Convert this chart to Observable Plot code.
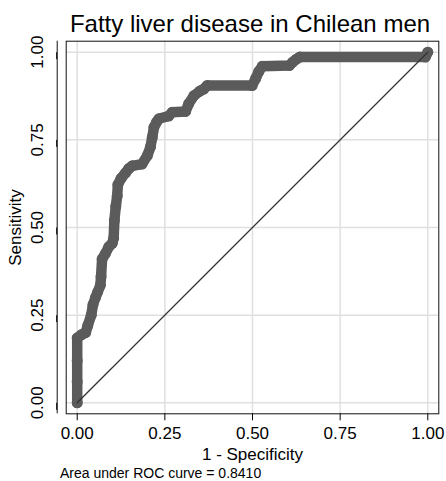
<!DOCTYPE html>
<html><head><meta charset="utf-8">
<script src="https://cdn.jsdelivr.net/npm/d3@7"></script>
<script src="https://cdn.jsdelivr.net/npm/@observablehq/plot@0.6"></script>
<style>
body{margin:0;background:#fff;font-family:"Liberation Sans",Arial,sans-serif;}
#wrap{position:relative;width:446px;height:481px;overflow:hidden;background:#fff}
#title{position:absolute;left:50px;width:400px;top:12px;font-size:24px;line-height:24px;text-align:center;white-space:nowrap;color:#000}
#chart{position:absolute;left:0;top:38px}
#caption{position:absolute;left:60px;top:466px;font-size:14px;line-height:14px;white-space:nowrap;color:#000}
</style></head><body>
<div id="wrap">
<div id="title">Fatty liver disease in Chilean men</div>
<div id="chart"></div>
<div id="caption">Area under ROC curve = 0.8410</div>
</div>
<script>
// ROC curve points: 1 - specificity (fpr) and sensitivity (tpr)
const fpr = [0, 0, 0, 0, 0.012, 0.024, 0.03, 0.04, 0.045, 0.052, 0.058, 0.066, 0.068, 0.071, 0.08, 0.09, 0.1, 0.104, 0.106, 0.11, 0.114, 0.116, 0.125, 0.138, 0.147, 0.157, 0.185, 0.2, 0.209, 0.214, 0.219, 0.226, 0.233, 0.261, 0.271, 0.309, 0.318, 0.333, 0.35, 0.361, 0.371, 0.499, 0.509, 0.518, 0.528, 0.605, 0.615, 0.625, 0.635, 0.993, 1];
const tpr = [0, 0.06, 0.12, 0.185, 0.194, 0.2, 0.22, 0.25, 0.28, 0.3, 0.315, 0.335, 0.36, 0.41, 0.425, 0.445, 0.455, 0.47, 0.52, 0.56, 0.59, 0.622, 0.64, 0.656, 0.668, 0.676, 0.681, 0.705, 0.73, 0.757, 0.786, 0.8, 0.81, 0.818, 0.829, 0.831, 0.853, 0.876, 0.889, 0.895, 0.905, 0.905, 0.925, 0.945, 0.96, 0.962, 0.972, 0.98, 0.986, 0.986, 1];
// reference (chance) line
const diagX = [0, 1];
const diagY = [0, 1];
// ticks
const ticks = [0, 0.25, 0.5, 0.75, 1];
const tickLabels = ["0.00", "0.25", "0.50", "0.75", "1.00"];
const xDomain = [-0.0314, 1.0314];
const yDomain = [-0.0314, 1.0314];

const roc = fpr.map((x, i) => ({x, y: tpr[i]}));
const diag = diagX.map((x, i) => ({x, y: diagY[i]}));
const fmt = d => tickLabels[ticks.indexOf(d)];
const curveColor = "#5b5b5b";

const chart = Plot.plot({
  width: 446, height: 428,
  marginLeft: 65.7, marginRight: 7.7, marginTop: 2.7, marginBottom: 52.7,
  style: {fontFamily: '"Liberation Sans", Arial, sans-serif', fontSize: "17px", color: "#000", background: "#fff", overflow: "visible"},
  x: {domain: xDomain},
  y: {domain: yDomain},
  marks: [
    Plot.gridX(ticks, {stroke: "#e0e0e0", strokeOpacity: 1, strokeWidth: 1.5}),
    Plot.gridY(ticks, {stroke: "#e0e0e0", strokeOpacity: 1, strokeWidth: 1.5}),
    Plot.line(roc, {x: "x", y: "y", stroke: curveColor, strokeWidth: 10.5, strokeLinejoin: "round", strokeLinecap: "round"}),
    Plot.dot(roc, {x: "x", y: "y", r: 5.5, fill: curveColor}),
    Plot.line(diag, {x: "x", y: "y", stroke: "#333", strokeWidth: 1.3}),
    Plot.frame({stroke: "#111"}),
    Plot.ruleX([xDomain[0]], {dx: -9, stroke: "#111"}),
    Plot.axisX(ticks, {tickSize: 7, tickPadding: 6, tickFormat: fmt, label: "1 - Specificity", labelAnchor: "center", labelOffset: 45.7, labelArrow: "none"}),
    Plot.axisY(ticks, {tickSize: 7, tickPadding: 7, dx: -9, rotate: -90, textAnchor: "middle", lineAnchor: "bottom", tickFormat: fmt, label: "Sensitivity", labelAnchor: "center", labelOffset: 57, labelArrow: "none"})
  ]
});
document.getElementById("chart").appendChild(chart);
</script>
</body></html>
